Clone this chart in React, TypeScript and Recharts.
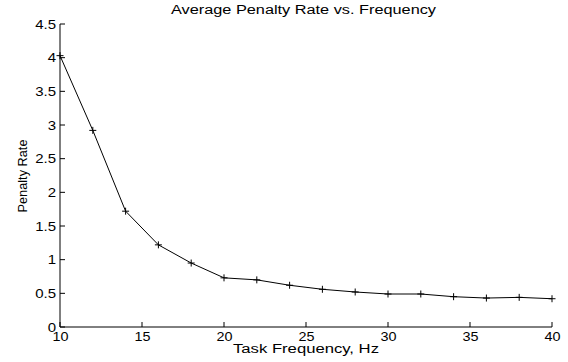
import { Line, LineChart, XAxis, YAxis } from "recharts";

const frequencies = [10, 12, 14, 16, 18, 20, 22, 24, 26, 28, 30, 32, 34, 36, 38, 40];
const penaltyRates = [4.03, 2.92, 1.72, 1.22, 0.95, 0.73, 0.7, 0.62, 0.56, 0.52, 0.49, 0.49, 0.45, 0.43, 0.44, 0.42];
const xTicks = [10, 15, 20, 25, 30, 35, 40];
const yTicks = [0, 0.5, 1, 1.5, 2, 2.5, 3, 3.5, 4, 4.5];

const data = frequencies.map((f, i) => ({ freq: f, rate: penaltyRates[i] }));

const FONT = "'Liberation Sans', Arial, Helvetica, sans-serif";
// reference text is stretched sideways a bit
const STRETCH = 1.2;

function XTick(props: any) {
  const { x, y, payload } = props;
  return (
    <g>
      <line x1={x} y1={y} x2={x} y2={y - 5} stroke="#000" />
      <text
        transform={`translate(${x + 0.5},${y + 14}) scale(${STRETCH},1)`}
        textAnchor="middle"
        fontSize={12}
        fontFamily={FONT}
        fill="#000"
      >
        {payload.value}
      </text>
    </g>
  );
}

function YTick(props: any) {
  const { x, y, payload } = props;
  return (
    <g>
      <line x1={x} y1={y} x2={x + 5} y2={y} stroke="#000" />
      <text
        transform={`translate(${x - 4},${y + 4.5}) scale(${STRETCH},1)`}
        textAnchor="end"
        fontSize={12.5}
        fontFamily={FONT}
        fill="#000"
      >
        {payload.value}
      </text>
    </g>
  );
}

function PlusDot(props: any) {
  const { cx, cy } = props;
  if (cx == null || cy == null) return null;
  return (
    <g>
      <line x1={cx - 3.5} y1={cy} x2={cx + 3.5} y2={cy} stroke="#000" />
      <line x1={cx} y1={cy - 3.5} x2={cx} y2={cy + 3.5} stroke="#000" />
    </g>
  );
}

export default function App() {
  return (
    <div style={{ position: "fixed", left: 0, top: 0, background: "#fff" }}>
      <LineChart width={568} height={362} data={data} margin={{ top: 24, right: 16, left: 0, bottom: 0 }}>
        <text
          x={303.5}
          y={14}
          textAnchor="middle"
          fontSize={12}
          fontFamily={FONT}
          fill="#000"
          textLength={265}
          lengthAdjust="spacingAndGlyphs"
        >
          Average Penalty Rate vs. Frequency
        </text>
        <text
          x={0}
          y={0}
          transform="translate(26.5,176) rotate(-90)"
          textAnchor="middle"
          fontSize={13}
          fontFamily={FONT}
          fill="#000"
          textLength={73}
          lengthAdjust="spacingAndGlyphs"
        >
          Penalty Rate
        </text>
        <text
          x={306}
          y={353}
          textAnchor="middle"
          fontSize={12}
          fontFamily={FONT}
          fill="#000"
          textLength={146}
          lengthAdjust="spacingAndGlyphs"
        >
          Task Frequency, Hz
        </text>
        <XAxis
          dataKey="freq"
          type="number"
          domain={[10, 40]}
          ticks={xTicks}
          height={35}
          tickSize={0}
          tickMargin={0}
          tickLine={false}
          stroke="#000"
          tick={<XTick />}
          interval={0}
        />
        <YAxis
          type="number"
          domain={[0, 4.5]}
          ticks={yTicks}
          width={60}
          tickSize={0}
          tickMargin={0}
          tickLine={false}
          stroke="#000"
          tick={<YTick />}
          interval={0}
        />
        <Line
          type="linear"
          dataKey="rate"
          stroke="#000"
          strokeWidth={1}
          dot={<PlusDot />}
          activeDot={false}
          isAnimationActive={false}
        />
      </LineChart>
    </div>
  );
}
